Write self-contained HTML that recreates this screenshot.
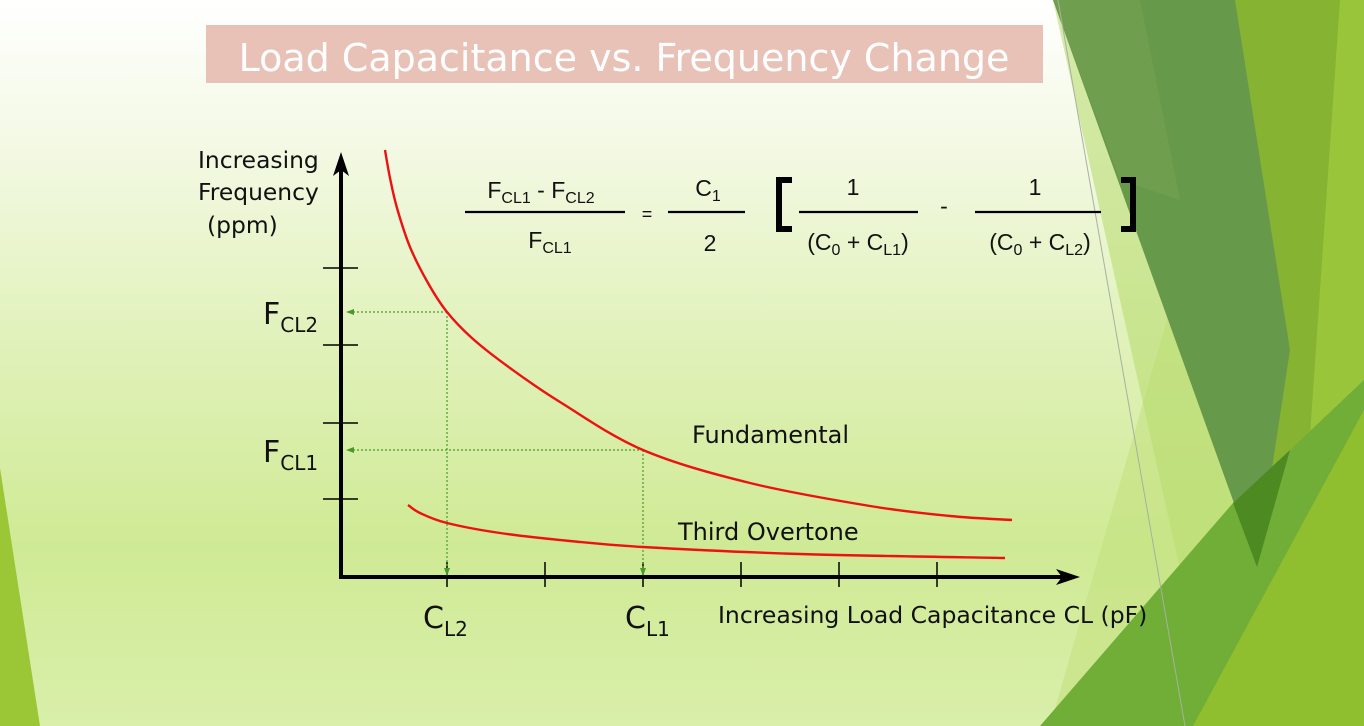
<!DOCTYPE html>
<html><head><meta charset="utf-8"><style>
html,body{margin:0;padding:0}
body{width:1364px;height:726px;overflow:hidden;position:relative;font-family:"DejaVu Sans","Liberation Sans",sans-serif;}
svg{position:absolute;left:0;top:0}
</style></head><body>
<svg width="1364" height="726" xmlns="http://www.w3.org/2000/svg">
<defs>
<linearGradient id="bg" x1="0" y1="0" x2="0" y2="1">
<stop offset="0" stop-color="#ffffff"/><stop offset="0.2" stop-color="#f3f9e4"/><stop offset="0.45" stop-color="#e2f2bd"/><stop offset="0.75" stop-color="#cfea95"/><stop offset="1" stop-color="#d9efaa"/>
</linearGradient>
<marker id="ga" markerWidth="8" markerHeight="8" refX="7" refY="4" orient="auto" markerUnits="userSpaceOnUse"><path d="M0,1 L8,4 L0,7 Z" fill="#4a9a2a"/></marker>
</defs>
<rect width="1364" height="726" fill="url(#bg)"/>
<polygon points="0,468 40,726 0,726" fill="#9bc736"/>
<!-- right decorations -->
<polygon points="1187,250 1364,250 1364,726 1050,726" fill="#c2e07e" opacity="0.55"/>
<polygon points="1053,0 1364,0 1364,726 1215,726" fill="#b9dc72" opacity="0.6"/>
<polygon points="1235,0 1364,0 1364,726 1240,726" fill="#86b432"/>
<polygon points="1340,0 1364,0 1364,726 1290,726" fill="#98c53a"/>
<polygon points="1053,0 1235,0 1290,350 1257,567" fill="#67994a"/>
<polygon points="1053,0 1140,0 1180,200 1120,180" fill="#74a352" opacity="0.6"/>
<polygon points="1040,726 1233,503 1290,450 1364,380 1364,726" fill="#70ae38"/>
<polygon points="1233,503 1290,450 1257,567" fill="#4e8a22"/>
<polygon points="1193,726 1364,410 1364,726" fill="#8fbf2e"/>
<line x1="1058" y1="0" x2="1185" y2="726" stroke="#a8b0a0" stroke-width="1"/>
<!-- title -->
<rect x="206" y="25" width="837" height="58" fill="#e8c1b7"/>
<text x="624" y="71" text-anchor="middle" font-size="38" fill="#fff">Load Capacitance vs. Frequency Change</text>
<!-- axes -->
<line x1="341" y1="160" x2="341" y2="579" stroke="#000" stroke-width="4"/>
<polygon points="341,152 333,176 341,170 349,176" fill="#000"/>
<line x1="339" y1="577" x2="1062" y2="577" stroke="#000" stroke-width="4"/>
<polygon points="1080,577 1056,569 1062,577 1056,585" fill="#000"/>
<g stroke="#000" stroke-width="1.5">
<line x1="323" y1="268" x2="358" y2="268"/><line x1="323" y1="345" x2="358" y2="345"/>
<line x1="323" y1="423" x2="358" y2="423"/><line x1="323" y1="499" x2="358" y2="499"/>
<line x1="447" y1="562" x2="447" y2="587"/><line x1="545" y1="562" x2="545" y2="587"/>
<line x1="643" y1="562" x2="643" y2="587"/><line x1="741" y1="562" x2="741" y2="587"/>
<line x1="839" y1="562" x2="839" y2="587"/><line x1="937" y1="562" x2="937" y2="587"/>
</g>
<!-- dotted guides -->
<g stroke="#4a9a2a" stroke-width="1.2" stroke-dasharray="2,2" fill="none">
<line x1="447" y1="312" x2="347" y2="312" marker-end="url(#ga)"/>
<line x1="643" y1="450" x2="347" y2="450" marker-end="url(#ga)"/>
<line x1="447" y1="312" x2="447" y2="575" marker-end="url(#ga)"/>
<line x1="643" y1="450" x2="643" y2="575" marker-end="url(#ga)"/>
</g>
<path id="fund" fill="none" stroke="#ee1111" stroke-width="2.4"/>
<path id="third" fill="none" stroke="#ee1111" stroke-width="2.4"/>
<!-- labels -->
<g font-size="23.4" fill="#111">
<text x="198" y="168">Increasing</text>
<text x="198" y="200">Frequency</text>
<text x="207" y="233">(ppm)</text>
</g>
<g font-size="24" fill="#111">
<text x="692" y="443">Fundamental</text>
<text x="678" y="540">Third Overtone</text>
</g>
<text x="718" y="623" font-size="23.5" fill="#111">Increasing Load Capacitance CL (pF)</text>
<g font-size="30" fill="#111">
<text x="263" y="324">F<tspan font-size="20" dy="8">CL2</tspan></text>
<text x="263" y="462">F<tspan font-size="20" dy="8">CL1</tspan></text>
<text x="423" y="628">C<tspan font-size="20" dy="8">L2</tspan></text>
<text x="625" y="628">C<tspan font-size="20" dy="8">L1</tspan></text>
</g>
<!-- formula -->
<g stroke="#000" stroke-width="2.2">
<line x1="465" y1="212" x2="625" y2="212"/><line x1="668" y1="212" x2="745" y2="212"/>
<line x1="799" y1="212" x2="918" y2="212"/><line x1="975" y1="212" x2="1101" y2="212"/>
</g>
<g font-size="23" fill="#111" font-family="Liberation Sans, sans-serif" text-anchor="middle">
<text x="541" y="198">F<tspan font-size="16" dy="5">CL1</tspan><tspan dy="-5"> - F</tspan><tspan font-size="16" dy="5">CL2</tspan></text>
<text x="550" y="248">F<tspan font-size="16" dy="5">CL1</tspan></text>
<text x="647" y="220" font-size="18">=</text>
<text x="708" y="196">C<tspan font-size="16" dy="5">1</tspan></text>
<text x="710" y="251">2</text>
<text x="853" y="195">1</text>
<text x="858" y="250">(C<tspan font-size="16" dy="5">0</tspan><tspan dy="-5"> + C</tspan><tspan font-size="16" dy="5">L1</tspan><tspan dy="-5">)</tspan></text>
<text x="944" y="214">-</text>
<text x="1035" y="195">1</text>
<text x="1040" y="250">(C<tspan font-size="16" dy="5">0</tspan><tspan dy="-5"> + C</tspan><tspan font-size="16" dy="5">L2</tspan><tspan dy="-5">)</tspan></text>
</g>
<path d="M792,180 H779 V229 H792" fill="none" stroke="#000" stroke-width="6"/>
<path d="M1121,180 H1133 V229 H1121" fill="none" stroke="#000" stroke-width="6"/>
</svg>
<script>
function cr(p){let d="M"+p[0][0]+","+p[0][1];for(let i=0;i<p.length-1;i++){const a=p[i-1]||p[i],b=p[i],c=p[i+1],e=p[i+2]||c;
d+=" C"+(b[0]+(c[0]-a[0])/6)+","+(b[1]+(c[1]-a[1])/6)+" "+(c[0]-(e[0]-b[0])/6)+","+(c[1]-(e[1]-b[1])/6)+" "+c[0]+","+c[1];}return d;}
document.getElementById("fund").setAttribute("d",cr([[385,150],[390,178],[397,208],[410,247],[428,283],[447,312],[473,339],[510,368],[560,402],[643,450],[750,483],[870,506],[950,516],[1012,520]]));
document.getElementById("third").setAttribute("d",cr([[408,505],[420,513],[447,523],[500,533],[570,541],[643,547],[800,554],[1005,558]]));
</script>
</body></html>
